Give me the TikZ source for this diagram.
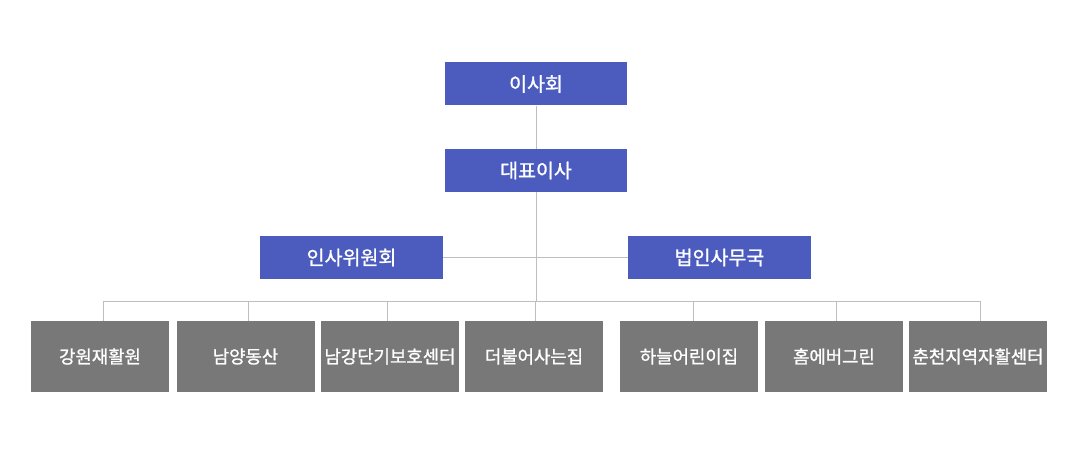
\documentclass[tikz,border=0pt]{standalone}
\usepackage{fontspec}
\newfontfamily\kr[FakeBold=1.2]{Noto Sans CJK KR}
\definecolor{boxblue}{HTML}{4B5CBE}
\definecolor{boxgray}{HTML}{787878}
\definecolor{linegray}{HTML}{BEBEBE}
\begin{document}
\begin{tikzpicture}[x=1pt,y=-1pt,
  topbox/.style={fill=boxblue,draw=none,text=white,inner sep=0pt,minimum width=182pt,minimum height=43pt,font=\kr\fontsize{19.5}{22}\selectfont},
  subbox/.style={fill=boxgray,draw=none,text=white,inner sep=0pt,minimum width=138pt,minimum height=71pt,font=\kr\fontsize{17.8}{20}\selectfont},
  conn/.style={draw=linegray,line width=1pt}]
\useasboundingbox (0,0) rectangle (1080,460);
\node[topbox] (board) at (536,84) {이사회};
\node[topbox] (ceo) at (536,170.5) {대표이사};
\node[topbox,minimum width=183pt] (hr) at (351.5,257.5) {인사위원회};
\node[topbox,minimum width=183pt] (office) at (719.5,257.5) {법인사무국};
\node[subbox] (b1) at (100,356.5) {강원재활원};
\node[subbox] (b2) at (245.5,356.5) {남양동산};
\node[subbox] (b3) at (390,356.5) {남강단기보호센터};
\node[subbox] (b4) at (534,356.5) {더불어사는집};
\node[subbox] (b5) at (689,356.5) {하늘어린이집};
\node[subbox] (b6) at (834,356.5) {홈에버그린};
\node[subbox] (b7) at (978,356.5) {춘천지역자활센터};
\coordinate (bus) at (536,301);
\coordinate (d1) at (103,301);
\coordinate (d2) at (248,301);
\coordinate (d3) at (387,301);
\coordinate (d4) at (535,301);
\coordinate (d5) at (693,301);
\coordinate (d6) at (836,301);
\coordinate (d7) at (980,301);
\draw[conn] (board.south) -- (ceo.north);
\draw[conn] (ceo.south) -- (bus);
\draw[conn] (hr.east) -- (office.west);
\draw[conn] (d1) -- (d7);
\foreach \i in {1,...,7}{\draw[conn] (d\i) -- (d\i |- b\i.north);}
\end{tikzpicture}
\end{document}
